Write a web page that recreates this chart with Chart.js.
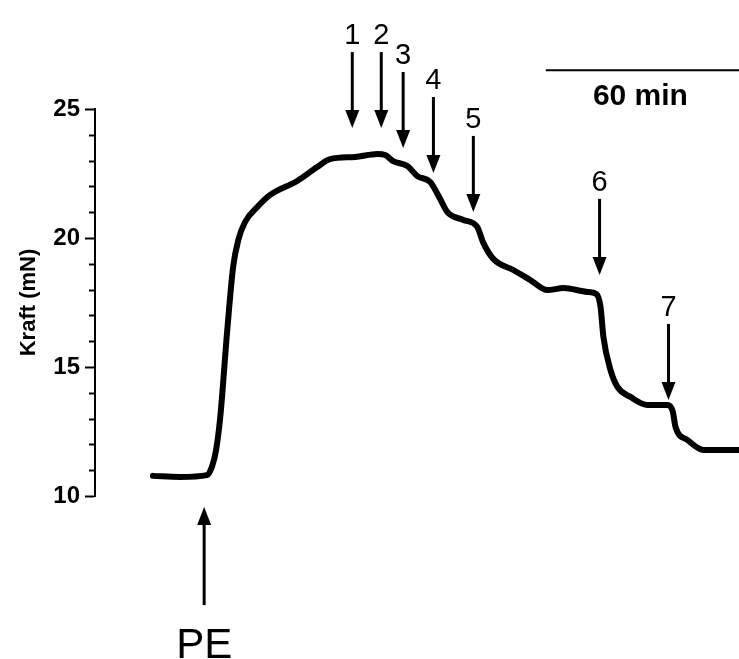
<!DOCTYPE html>
<html>
<head>
<meta charset="utf-8">
<script src="https://cdn.jsdelivr.net/npm/chart.js@4.4.1/dist/chart.umd.min.js"></script>
<style>
  body { margin: 0; background: #fff; }
  #wrap { width: 739px; height: 659px; position: relative; }
</style>
</head>
<body>
<div id="wrap"><canvas id="forceChart"></canvas></div>
<script>
// Force trace: time in minutes, force in mN
const timeMin = [18.0, 26.4, 34.8, 36.4, 37.6, 38.9, 41.0, 42.9, 44.5, 46.6, 50.4, 54.4, 62.8, 69.0, 73.0,
  80.8, 87.7, 90.1, 92.6, 97.0, 100.1, 104.1, 107.2, 109.4, 114.4, 118.7, 120.6, 123.7, 129.9, 135.2,
  140.5, 145.5, 152.9, 155.7, 157.0, 157.9, 160.1, 162.3, 166.3, 171.6, 177.8, 179.4, 180.3, 184.0,
  189.0, 200.5];
const forceMN = [10.78, 10.74, 10.81, 11.16, 11.78, 13.06, 16.32, 18.88, 19.92, 20.62, 21.20, 21.67, 22.21, 22.75, 23.06,
  23.14, 23.26, 23.22, 22.98, 22.79, 22.40, 22.17, 21.51, 21.01, 20.70, 20.43, 19.81, 19.19, 18.76, 18.37,
  17.98, 18.06, 17.91, 17.83, 17.33, 16.16, 14.88, 14.22, 13.84, 13.53, 13.53, 13.29, 12.67, 12.17,
  11.78, 11.78];

// y axis
const yMin = 10;
const yMax = 25;
const yTickLabels = [10, 15, 20, 25];
const yTitle = 'Kraft (mN)';

// additions: label, time (min) and force at the arrow tip (mN)
const markerLabels = ['1', '2', '3', '4', '5', '6', '7'];
const markerTimes = [79.9, 88.9, 95.7, 105.1, 117.5, 156.7, 178.1];
const markerTips = [24.26, 24.26, 23.49, 22.52, 21.01, 18.57, 13.72];

// PE addition, arrow from below
const peLabel = 'PE';
const peTime = 33.9;
const peTip = 9.57;

// time scale bar
const scaleBarLabel = '60 min';
const scaleBarStart = 140;
const scaleBarLength = 60;
const scaleBarLevel = 26.5;

const FONT = '"Liberation Sans", Arial, sans-serif';

function drawArrow(ctx, x, tipY, length, dir) {
  // dir = 1: points down, dir = -1: points up
  const headLen = 18, headHalf = 7;
  ctx.beginPath();
  ctx.moveTo(x, tipY - dir * length);
  ctx.lineTo(x, tipY - dir * (headLen - 2));
  ctx.lineWidth = 3;
  ctx.strokeStyle = '#000';
  ctx.stroke();
  ctx.beginPath();
  ctx.moveTo(x, tipY);
  ctx.lineTo(x - headHalf, tipY - dir * headLen);
  ctx.lineTo(x + headHalf, tipY - dir * headLen);
  ctx.closePath();
  ctx.fillStyle = '#000';
  ctx.fill();
}

const annotations = {
  id: 'annotations',
  afterDraw(chart) {
    const ctx = chart.ctx;
    const xs = chart.scales.x;
    const ys = chart.scales.y;
    ctx.save();

    // minor ticks on the y axis
    ctx.strokeStyle = '#000';
    ctx.lineWidth = 2;
    ys.ticks.forEach(t => {
      if (yTickLabels.includes(t.value)) return;
      const py = Math.round(ys.getPixelForValue(t.value)) + 0.5;
      ctx.beginPath();
      ctx.moveTo(ys.right - 6, py);
      ctx.lineTo(ys.right, py);
      ctx.stroke();
    });

    // numbered arrows
    ctx.font = '29px ' + FONT;
    ctx.textAlign = 'center';
    ctx.textBaseline = 'alphabetic';
    ctx.fillStyle = '#000';
    markerLabels.forEach((lab, i) => {
      const x = xs.getPixelForValue(markerTimes[i]);
      const tip = ys.getPixelForValue(markerTips[i]);
      drawArrow(ctx, x, tip, 76, 1);
      ctx.fillText(lab, x, tip - 76 - 8);
    });

    // PE arrow
    const px = xs.getPixelForValue(peTime);
    const ptip = ys.getPixelForValue(peTip);
    drawArrow(ctx, px, ptip, 98, -1);
    ctx.font = '42px ' + FONT;
    ctx.fillText(peLabel, px, ptip + 98 + 53);

    // 60 min scale bar
    const bx0 = xs.getPixelForValue(scaleBarStart);
    const bx1 = xs.getPixelForValue(scaleBarStart + scaleBarLength);
    const by = ys.getPixelForValue(scaleBarLevel);
    ctx.beginPath();
    ctx.moveTo(bx0, by);
    ctx.lineTo(bx1, by);
    ctx.lineWidth = 2;
    ctx.stroke();
    ctx.font = 'bold 30px ' + FONT;
    ctx.fillText(scaleBarLabel, (bx0 + bx1) / 2 - 2, by + 35);

    ctx.restore();
  }
};

const points = timeMin.map((t, i) => ({ x: t, y: forceMN[i] }));

new Chart(document.getElementById('forceChart'), {
  type: 'line',
  data: {
    datasets: [{
      data: points,
      borderColor: '#000',
      borderWidth: 6,
      pointRadius: 0,
      cubicInterpolationMode: 'monotone',
      borderJoinStyle: 'round',
      borderCapStyle: 'round'
    }]
  },
  options: {
    responsive: true,
    maintainAspectRatio: false,
    animation: false,
    layout: { padding: { top: 109, bottom: 163, left: 0, right: 0 } },
    plugins: { legend: { display: false }, tooltip: { enabled: false } },
    scales: {
      x: { type: 'linear', min: 0, max: 200, display: false },
      y: {
        min: yMin,
        max: yMax,
        afterFit(scale) { scale.width = 95; },
        border: { display: true, color: '#000', width: 2 },
        grid: {
          drawOnChartArea: false,
          drawTicks: true,
          tickLength: 10,
          tickWidth: 2,
          tickColor: c => (c.tick && yTickLabels.includes(c.tick.value)) ? '#000' : 'rgba(0,0,0,0)'
        },
        ticks: {
          stepSize: 1,
          autoSkip: false,
          padding: 5,
          color: '#000',
          font: { family: FONT, size: 24, weight: 'bold' },
          callback: v => yTickLabels.includes(v) ? String(v) : ''
        },
        title: {
          display: true,
          text: yTitle,
          color: '#000',
          padding: { top: 16 },
          font: { family: FONT, size: 22, weight: 'bold' }
        }
      }
    }
  },
  plugins: [annotations]
});
</script>
</body>
</html>
